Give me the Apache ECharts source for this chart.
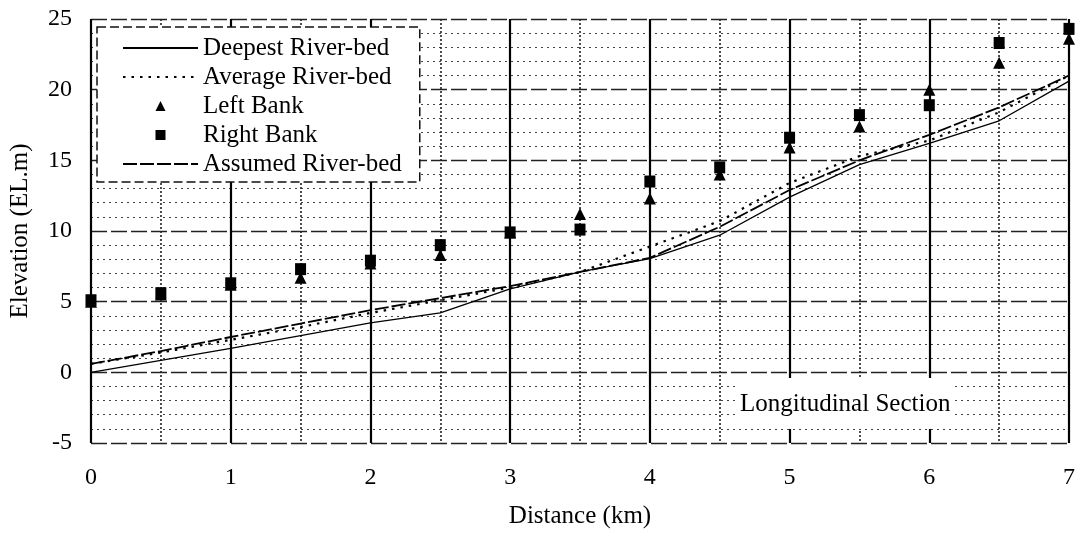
<!DOCTYPE html>
<html>
<head>
<meta charset="utf-8">
<script src="https://cdn.jsdelivr.net/npm/echarts@6/dist/echarts.min.js"></script>
<style>
  html, body { margin: 0; padding: 0; background: #fff; }
  #chart { width: 1078px; height: 536px; }
</style>
</head>
<body>
<div id="chart"></div>
<script>
// Longitudinal section of the river: stations every 0.5 km
const distanceKm = [0, 0.5, 1, 1.5, 2, 2.5, 3, 3.5, 4, 4.5, 5, 5.5, 6, 6.5, 7];
const deepestBed = [0.0, 0.85, 1.7, 2.6, 3.5, 4.2, 5.9, 7.1, 8.05, 9.7, 12.4, 14.7, 16.2, 17.8, 20.6];
const averageBed = [0.6, 1.4, 2.3, 3.2, 4.2, 5.1, 6.0, 7.1, 8.9, 10.7, 13.4, 15.3, 16.4, 18.4, 21.0];
const leftBank   = [5.0, 5.5, 6.2, 6.7, 7.7, 8.3, 9.9, 11.2, 12.3, 14.0, 15.9, 17.4, 20.0, 21.9, 23.6];
const rightBank  = [5.1, 5.6, 6.3, 7.3, 7.9, 9.0, 9.9, 10.1, 13.5, 14.5, 16.6, 18.2, 18.9, 23.3, 24.3];
const assumedBed = [0.6, 1.5, 2.5, 3.45, 4.4, 5.25, 6.1, 7.1, 8.1, 10.3, 12.9, 15.0, 16.8, 18.75, 21.0];

const seriesNames = ['Deepest River-bed', 'Average River-bed', 'Left Bank', 'Right Bank', 'Assumed River-bed'];
const sectionLabel = 'Longitudinal Section';

const serif = '"Liberation Serif", "DejaVu Serif", serif';
const pairs = ys => distanceKm.map((x, i) => [x, ys[i]]);

// line entries show only their stroke; bank entries show a small, unstretched marker
const lineEntry = name => ({ name, itemStyle: { opacity: 0 } });
const triangleIcon = 'path://M0,10L5,0L10,10Z';
const squareIcon = 'path://M0,0L10,0L10,10L0,10Z';

const chart = echarts.init(document.getElementById('chart'), null, { renderer: 'canvas' });

chart.setOption({
  animation: false,
  backgroundColor: '#fff',
  textStyle: { fontFamily: serif, color: '#000' },
  grid: { left: 89, right: 5, top: 19, bottom: 93, show: false },
  title: {
    text: sectionLabel,
    left: 737, top: 378,
    padding: [14, 3, 12, 3],
    backgroundColor: '#fff',
    textStyle: { fontFamily: serif, fontSize: 25, fontWeight: 'normal', color: '#000', lineHeight: 25 }
  },
  legend: {
    data: [
      lineEntry(seriesNames[0]),
      lineEntry(seriesNames[1]),
      { name: seriesNames[2], icon: triangleIcon },
      { name: seriesNames[3], icon: squareIcon },
      lineEntry(seriesNames[4])
    ],
    orient: 'vertical',
    left: 97, top: 27,
    padding: [8, 18, 5, 25],
    itemWidth: 75, itemHeight: 10, itemGap: 3,
    symbolKeepAspect: true,
    backgroundColor: '#fff',
    borderColor: '#111', borderWidth: 1.5, borderType: [9, 4],
    textStyle: { fontFamily: serif, fontSize: 25, color: '#000', lineHeight: 26 },
    z: 20
  },
  xAxis: {
    type: 'value', min: 0, max: 7, interval: 1,
    name: 'Distance (km)', nameLocation: 'middle', nameGap: 61,
    nameTextStyle: { fontFamily: serif, fontSize: 25, color: '#000' },
    axisLine: { show: false }, axisTick: { show: false },
    axisLabel: { margin: 23, fontFamily: serif, fontSize: 24, color: '#000' },
    splitLine: { show: true, lineStyle: { color: '#000', width: 2.2, type: 'solid' } },
    minorTick: { show: false, splitNumber: 2 },
    minorSplitLine: { show: true, lineStyle: { color: '#222', width: 1.6, type: [2, 2] } }
  },
  yAxis: {
    type: 'value', min: -5, max: 25, interval: 5,
    name: 'Elevation (EL.m)', nameLocation: 'middle', nameGap: 58, nameRotate: 90,
    nameTextStyle: { fontFamily: serif, fontSize: 25, color: '#000' },
    axisLine: { show: false }, axisTick: { show: false },
    axisLabel: { margin: 19, fontFamily: serif, fontSize: 24, color: '#000' },
    splitLine: { show: true, lineStyle: { color: '#222', width: 1.4, type: [16, 4] } },
    minorTick: { show: false, splitNumber: 5 },
    minorSplitLine: { show: true, lineStyle: { color: '#444', width: 1, type: [2, 4] } }
  },
  series: [
    {
      name: seriesNames[0], type: 'line', data: pairs(deepestBed),
      symbol: 'none', showSymbol: false, z: 3,
      lineStyle: { color: '#000', width: 1.3, type: 'solid' },
      itemStyle: { color: '#000' }
    },
    {
      name: seriesNames[1], type: 'line', data: pairs(averageBed),
      symbol: 'none', showSymbol: false, z: 3,
      lineStyle: { color: '#000', width: 2.2, type: [2.5, 6] },
      itemStyle: { color: '#000' }
    },
    {
      name: seriesNames[2], type: 'scatter', data: pairs(leftBank),
      symbol: 'triangle', symbolSize: [12, 12], z: 4, clip: false,
      itemStyle: { color: '#000', opacity: 1 }
    },
    {
      name: seriesNames[3], type: 'scatter', data: pairs(rightBank),
      symbol: 'rect', symbolSize: [11, 12], z: 5, clip: false,
      itemStyle: { color: '#000', opacity: 1 }
    },
    {
      name: seriesNames[4], type: 'line', data: pairs(assumedBed),
      symbol: 'none', showSymbol: false, z: 3,
      lineStyle: { color: '#000', width: 1.8, type: [14, 3] },
      itemStyle: { color: '#000' }
    }
  ]
});
</script>
</body>
</html>
